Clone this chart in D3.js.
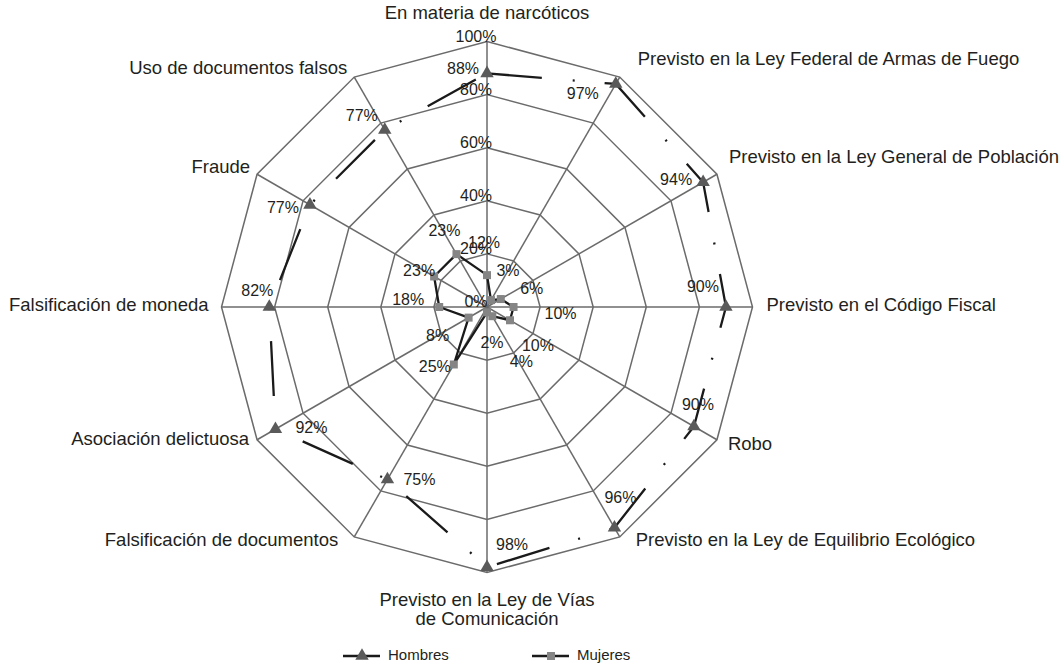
<!DOCTYPE html>
<html>
<head>
<meta charset="utf-8">
<script src="https://cdn.jsdelivr.net/npm/d3@7"></script>
<style>
  body { margin: 0; background: #fff; }
  text { font-family: "Liberation Sans", Arial, sans-serif; fill: #231f20; }
</style>
</head>
<body>
<svg id="chart" width="1064" height="663"></svg>
<script>
// categories clockwise from the top
const categories = [
  "En materia de narcóticos",
  "Previsto en la Ley Federal de Armas de Fuego",
  "Previsto en la Ley General de Población",
  "Previsto en el Código Fiscal",
  "Robo",
  "Previsto en la Ley de Equilibrio Ecológico",
  "Previsto en la Ley de Vías|de Comunicación",
  "Falsificación de documentos",
  "Asociación delictuosa",
  "Falsificación de moneda",
  "Fraude",
  "Uso de documentos falsos"
];
const hombres = [88, 97, 94, 90, 90, 96, 98, 75, 92, 82, 77, 77];
const mujeres = [12, 3, 6, 10, 10, 4, 2, 25, 8, 18, 23, 23];
const ticks = [0, 20, 40, 60, 80, 100];
const seriesNames = ["Hombres", "Mujeres"];

// label nudges (layout only), [dx, dy] from the point
const catNudge = [[0, -27], [18, -17], [12, -16], [14, -1], [11, 5], [16, 4],
                  [0, 0], [-16, 4], [-8, 0], [-13, -1], [-7, -6], [-7, -8]];
const hNudge = [[-24, -4], [-33, 11], [-27, -1], [-23, -19], [4, -21], [6, -29],
                [25, -21], [32, 1], [36, 0], [-12, -15], [-27, 4], [-23, -13]];
const mNudge = [[-3, -31], [17, -28], [31, -9], [47, 8], [28, 27], [29, 47],
                [5, 31], [-19, 3], [-31, 19], [-31, -6], [-15, -5], [-12, -22]];

const cx = 487, cy = 307, R = 265.5;
const svg = d3.select("#chart");
const g = svg.append("g").attr("transform", `translate(${cx},${cy})`);

const r = d3.scaleLinear().domain([0, 100]).range([0, R]);
const ang = d3.scaleLinear().domain([0, categories.length]).range([0, 2 * Math.PI]);
const px = (i, v) => r(v) * Math.sin(ang(i));
const py = (i, v) => -r(v) * Math.cos(ang(i));
const idx = d3.range(categories.length);

const gridColor = "#6b6b6b";
const radial = d3.lineRadial().angle((d, i) => ang(i)).radius(d => r(d)).curve(d3.curveLinearClosed);

// rings
g.selectAll("path.ring")
  .data(ticks.filter(t => t > 0)).enter()
  .append("path")
  .attr("d", t => radial(idx.map(() => t)))
  .attr("fill", "none")
  .attr("stroke", gridColor)
  .attr("stroke-width", 1.5);

// spokes
g.selectAll("line.spoke")
  .data(idx).enter()
  .append("line")
  .attr("x1", 0).attr("y1", 0)
  .attr("x2", i => px(i, 100))
  .attr("y2", i => py(i, 100))
  .attr("stroke", gridColor)
  .attr("stroke-width", 1.5);

// tick labels
g.selectAll("text.tick")
  .data(ticks).enter()
  .append("text")
  .attr("x", -11)
  .attr("y", t => -r(t) - 4)
  .attr("text-anchor", "middle")
  .attr("dominant-baseline", "middle")
  .style("font-size", "16px")
  .text(t => t + "%");

// category labels
idx.forEach(i => {
  const x = px(i, 100) + catNudge[i][0];
  const y = py(i, 100) + catNudge[i][1];
  const s = Math.sin(ang(i));
  const anchor = Math.abs(s) < 0.01 ? "middle" : (s > 0 ? "start" : "end");
  const lines = categories[i].split("|");
  const t = g.append("text")
    .attr("text-anchor", anchor)
    .style("font-size", "18.5px");
  if (i === 6) {
    lines.forEach((ln, k) => t.append("tspan").attr("x", x).attr("y", y + 33 + k * 19).text(ln));
  } else {
    t.attr("x", x).attr("y", y).attr("dominant-baseline", "middle").text(lines[0]);
  }
});

// series lines
const seriesLine = vals => radial(vals);
g.append("path")
  .attr("d", seriesLine(mujeres))
  .attr("fill", "none")
  .attr("stroke", "#1a1a1a")
  .attr("stroke-width", 2.3)
  .attr("stroke-linejoin", "round");

g.append("path")
  .attr("d", seriesLine(hombres))
  .attr("fill", "none")
  .attr("stroke", "#1a1a1a")
  .attr("stroke-width", 2.3)
  .attr("stroke-dasharray", "55 31 2 30");

// markers
const tri = d3.symbol().type(d3.symbolTriangle).size(78);
const sq = d3.symbol().type(d3.symbolSquare).size(64);

g.selectAll("path.hm")
  .data(hombres).enter()
  .append("path")
  .attr("d", tri)
  .attr("transform", (v, i) => `translate(${px(i, v)},${py(i, v)})`)
  .attr("fill", "#5a5a5a");

g.selectAll("path.mm")
  .data(mujeres).enter()
  .append("path")
  .attr("d", sq)
  .attr("transform", (v, i) => `translate(${px(i, v)},${py(i, v)})`)
  .attr("fill", "#858585");

// data labels
g.selectAll("text.hl")
  .data(hombres).enter()
  .append("text")
  .attr("x", (v, i) => px(i, v) + hNudge[i][0])
  .attr("y", (v, i) => py(i, v) + hNudge[i][1])
  .attr("text-anchor", "middle")
  .attr("dominant-baseline", "middle")
  .style("font-size", "16px")
  .text(v => v + "%");

g.selectAll("text.ml")
  .data(mujeres).enter()
  .append("text")
  .attr("x", (v, i) => px(i, v) + mNudge[i][0])
  .attr("y", (v, i) => py(i, v) + mNudge[i][1])
  .attr("text-anchor", "middle")
  .attr("dominant-baseline", "middle")
  .style("font-size", "16px")
  .text(v => v + "%");

// legend
const legend = svg.append("g").attr("transform", "translate(343,656)");
const legendX = d3.scalePoint().domain(seriesNames).range([0, 189]);
seriesNames.forEach((name, k) => {
  const lg = legend.append("g").attr("transform", `translate(${legendX(name)},0)`);
  lg.append("line").attr("x1", 0).attr("x2", 37).attr("y1", 0).attr("y2", 0)
    .attr("stroke", "#1a1a1a").attr("stroke-width", 2.3);
  lg.append("path")
    .attr("d", k === 0 ? tri : sq)
    .attr("transform", "translate(19,0)")
    .attr("fill", k === 0 ? "#5a5a5a" : "#858585");
  lg.append("text")
    .attr("x", 45).attr("y", 0)
    .attr("dominant-baseline", "middle")
    .style("font-size", "15px")
    .text(name);
});
</script>
</body>
</html>
